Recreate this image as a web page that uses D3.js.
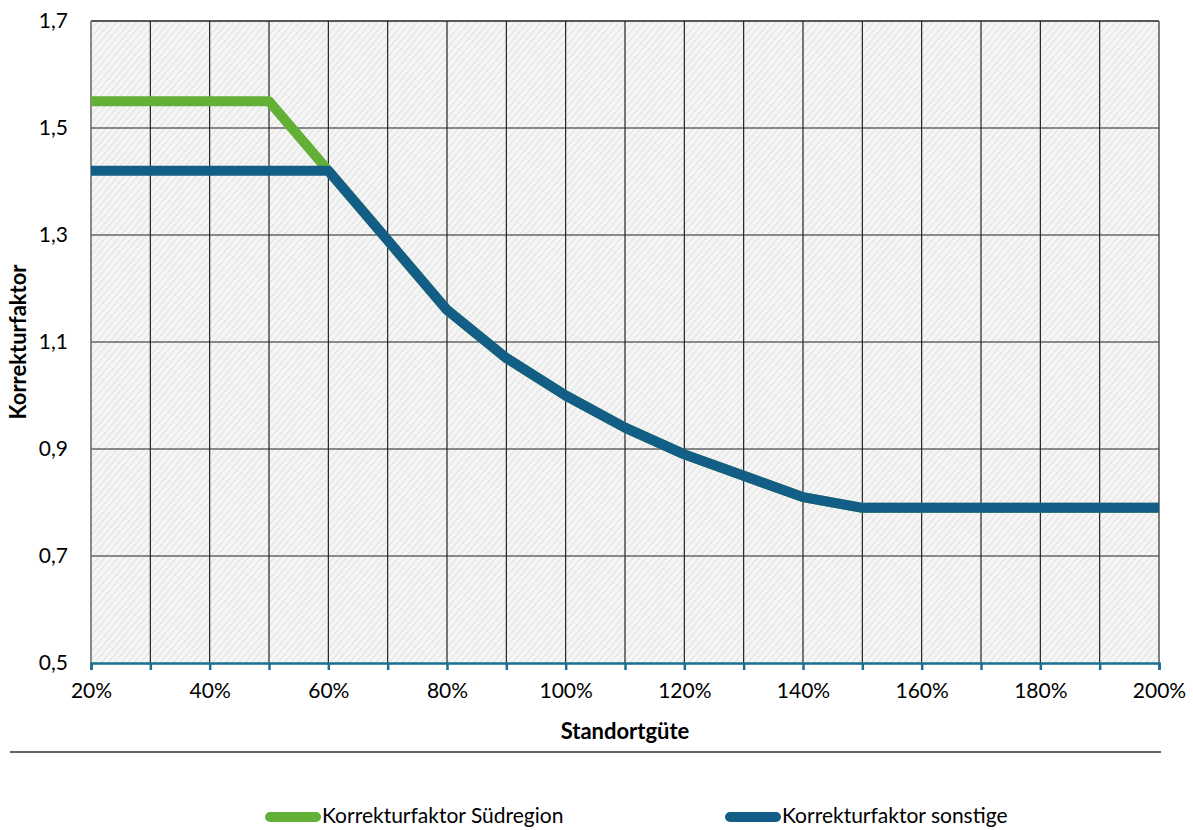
<!DOCTYPE html>
<html>
<head>
<meta charset="utf-8">
<script src="https://cdn.jsdelivr.net/npm/d3@7"></script>
<style>
  body { margin: 0; background: #fff; }
  text { font-family: Lato, "Open Sans", sans-serif; fill: #000; }
</style>
</head>
<body>
<div class="chart"></div>
<script>
// Standortgüte (%) and correction factors
var xValues = [20, 30, 40, 50, 60, 70, 80, 90, 100, 110, 120, 130, 140, 150, 160, 170, 180, 190, 200];
var sued = [1.55, 1.55, 1.55, 1.55, 1.42, 1.29, 1.16, 1.07, 1.00, 0.94, 0.89, 0.85, 0.81, 0.79, 0.79, 0.79, 0.79, 0.79, 0.79];
var sonstige = [1.42, 1.42, 1.42, 1.42, 1.42, 1.29, 1.16, 1.07, 1.00, 0.94, 0.89, 0.85, 0.81, 0.79, 0.79, 0.79, 0.79, 0.79, 0.79];
var yTicks = [0.5, 0.7, 0.9, 1.1, 1.3, 1.5, 1.7];
var xLabelTicks = [20, 40, 60, 80, 100, 120, 140, 160, 180, 200];
var seriesNames = ['Korrekturfaktor Südregion', 'Korrekturfaktor sonstige'];
var colors = ['#62b036', '#135e86'];

var margin = { top: 21, right: 34, bottom: 167, left: 91 };
var W = 1193, H = 830;
var width = W - margin.left - margin.right;
var height = H - margin.top - margin.bottom;

var root = d3.select('.chart')
    .append('svg')
    .attr('width', W)
    .attr('height', H);

var defs = root.append('defs');
var pat = defs.append('pattern')
    .attr('id', 'hatch')
    .attr('patternUnits', 'userSpaceOnUse')
    .attr('width', 5)
    .attr('height', 5)
    .attr('patternTransform', 'rotate(40)');
pat.append('rect').attr('width', 5).attr('height', 5).attr('fill', '#f5f5f5');
pat.append('line')
    .attr('x1', 0).attr('y1', 0).attr('x2', 0).attr('y2', 5)
    .attr('stroke', '#e1e1e1').attr('stroke-width', 2);

var svg = root.append('g')
    .attr('transform', 'translate(' + margin.left + ', ' + margin.top + ')');

var xScale = d3.scaleLinear().domain([20, 200]).range([0, width]);
var yScale = d3.scaleLinear().domain([0.5, 1.7]).range([height, 0]);

svg.append('rect')
    .attr('width', width)
    .attr('height', height)
    .attr('fill', 'url(#hatch)');

// vertical grid every 10%
svg.selectAll('.vgrid')
    .data(xValues.slice(1, -1))
    .enter()
    .append('line')
    .attr('class', 'vgrid')
    .attr('x1', d => xScale(d)).attr('x2', d => xScale(d))
    .attr('y1', 0).attr('y2', height)
    .attr('stroke', '#111').attr('stroke-width', 1.1);

// horizontal grid
svg.selectAll('.hgrid')
    .data(yTicks.slice(1))
    .enter()
    .append('line')
    .attr('class', 'hgrid')
    .attr('x1', 0).attr('x2', width)
    .attr('y1', d => yScale(d)).attr('y2', d => yScale(d))
    .attr('stroke', '#222').attr('stroke-width', d => d === 1.7 ? 1.6 : 1.1);

// left and right borders
svg.append('line').attr('x1', 0).attr('x2', 0).attr('y1', 0).attr('y2', height)
    .attr('stroke', '#666').attr('stroke-width', 1.5);
svg.append('line').attr('x1', width).attr('x2', width).attr('y1', 0).attr('y2', height)
    .attr('stroke', '#555').attr('stroke-width', 1.5);

// y axis labels
var yAxis = d3.axisLeft(yScale)
    .tickValues(yTicks)
    .tickSize(0)
    .tickPadding(23)
    .tickFormat(d => d3.format('.1f')(d).replace('.', ','));
var gy = svg.append('g').call(yAxis);
gy.select('.domain').remove();
gy.selectAll('text').style('font-size', '21px').style('font-family', 'Lato, sans-serif');

// x axis
var xAxis = d3.axisBottom(xScale)
    .tickValues(xValues)
    .tickSize(7)
    .tickSizeOuter(7)
    .tickFormat(d => xLabelTicks.indexOf(d) >= 0 ? d + '%' : '');
var gx = svg.append('g')
    .attr('transform', `translate(0, ${height})`)
    .call(xAxis);
gx.select('.domain').attr('stroke', '#1d6e93').attr('stroke-width', 2.5);
gx.selectAll('.tick line').attr('stroke', '#1d6e93').attr('stroke-width', 2.5);
gx.selectAll('text').attr('y', 16).attr('dy', '0.9em').style('font-size', '21px').style('font-family', 'Lato, sans-serif');

// series lines
var line = d3.line()
    .x((d, i) => xScale(xValues[i]))
    .y(d => yScale(d));

[sued, sonstige].forEach(function (s, i) {
    svg.append('path')
        .datum(s)
        .attr('d', line)
        .attr('fill', 'none')
        .attr('stroke', colors[i])
        .attr('stroke-width', 10)
        .attr('stroke-linejoin', 'round');
});

// axis titles
root.append('text')
    .attr('transform', 'translate(26, 342) rotate(-90)')
    .attr('text-anchor', 'middle')
    .style('font-size', '22px')
    .style('font-weight', 'bold')
    .text('Korrekturfaktor');

root.append('text')
    .attr('x', 625)
    .attr('y', 739)
    .attr('text-anchor', 'middle')
    .style('font-size', '22px')
    .style('font-weight', 'bold')
    .text('Standortgüte');

// separator
root.append('line')
    .attr('x1', 10).attr('x2', 1161)
    .attr('y1', 752).attr('y2', 752)
    .attr('stroke', '#666').attr('stroke-width', 2);

// legend
var legendX = [270, 730];
var legend = root.selectAll('.legend')
    .data(seriesNames)
    .enter()
    .append('g')
    .attr('class', 'legend')
    .attr('transform', (d, i) => `translate(${legendX[i]}, 817)`);
legend.append('line')
    .attr('x1', 0).attr('x2', 46)
    .attr('y1', 0).attr('y2', 0)
    .attr('stroke', (d, i) => colors[i])
    .attr('stroke-width', 10)
    .attr('stroke-linecap', 'round');
legend.append('text')
    .attr('x', 52)
    .attr('y', 6)
    .style('font-size', '21px')
    .text(d => d);
</script>
</body>
</html>
